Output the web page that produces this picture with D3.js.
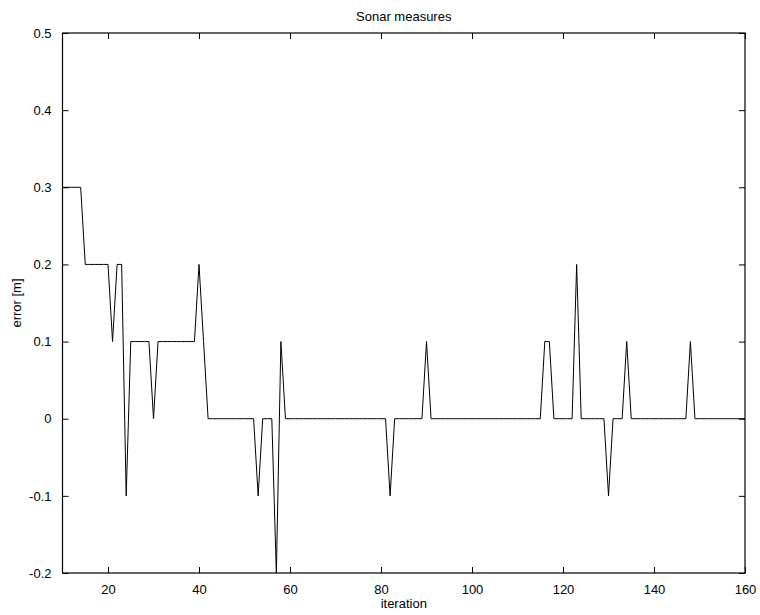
<!DOCTYPE html>
<html>
<head>
<meta charset="utf-8">
<script src="https://cdn.jsdelivr.net/npm/d3@7/dist/d3.min.js"></script>
<style>
  html, body { margin: 0; padding: 0; background: #fff; }
  svg { display: block; }
  text { font-family: "Liberation Sans", Arial, Helvetica, sans-serif; fill: #000; }
</style>
</head>
<body>
<svg id="chart" width="760" height="615"></svg>
<script>
// ---- data ----
const iterationStart = 10;
const errorValues = [
  0.3, 0.3, 0.3, 0.3, 0.3,                 // 10-14
  0.2, 0.2, 0.2, 0.2, 0.2, 0.2,            // 15-20
  0.1,                                     // 21
  0.2, 0.2,                                // 22-23
  -0.1,                                    // 24
  0.1, 0.1, 0.1, 0.1, 0.1,                 // 25-29
  0,                                       // 30
  0.1, 0.1, 0.1, 0.1, 0.1, 0.1, 0.1, 0.1, 0.1, // 31-39
  0.2,                                     // 40
  0.1,                                     // 41
  0, 0, 0, 0, 0, 0, 0, 0, 0, 0, 0,         // 42-52
  -0.1,                                    // 53
  0, 0, 0,                                 // 54-56
  -0.2,                                    // 57
  0.1,                                     // 58
  0, 0, 0, 0, 0, 0, 0, 0, 0, 0, 0, 0, 0, 0, 0, 0, 0, 0, 0, 0, 0, 0, 0, // 59-81
  -0.1,                                    // 82
  0, 0, 0, 0, 0, 0, 0,                     // 83-89
  0.1,                                     // 90
  0, 0, 0, 0, 0, 0, 0, 0, 0, 0, 0, 0, 0, 0, 0, 0, 0, 0, 0, 0, 0, 0, 0, 0, 0, // 91-115
  0.1, 0.1,                                // 116-117
  0, 0, 0, 0, 0,                           // 118-122
  0.2,                                     // 123
  0, 0, 0, 0, 0, 0,                        // 124-129
  -0.1,                                    // 130
  0, 0, 0,                                 // 131-133
  0.1,                                     // 134
  0, 0, 0, 0, 0, 0, 0, 0, 0, 0, 0, 0, 0,   // 135-147
  0.1,                                     // 148
  0, 0, 0, 0, 0, 0, 0, 0, 0, 0, 0, 0       // 149-160
];
const xTicks = [20, 40, 60, 80, 100, 120, 140, 160];
const yTicks = [-0.2, -0.1, 0, 0.1, 0.2, 0.3, 0.4, 0.5];
const xDomain = [10, 160];
const yDomain = [-0.2, 0.5];
const titleText = "Sonar measures";
const xLabelText = "iteration";
const yLabelText = "error [m]";

// ---- layout ----
const margin = { left: 62.5, right: 15, top: 33, bottom: 42 };
const W = 760, H = 615;
const svg = d3.select("#chart");
const x = d3.scaleLinear().domain(xDomain).range([margin.left, W - margin.right]);
const y = d3.scaleLinear().domain(yDomain).range([H - margin.bottom, margin.top]);

const fmtY = v => (Math.abs(v) < 1e-9 ? "0" : d3.format(".1f")(v).replace("\u2212", "-"));
const tickLen = 6;
const fontSize = 13;

// data line
const points = errorValues.map((v, i) => ({ it: iterationStart + i, v }));
const line = d3.line().x(d => x(d.it)).y(d => y(d.v));
svg.append("path")
  .datum(points)
  .attr("fill", "none")
  .attr("stroke", "#000")
  .attr("stroke-width", 1)
  .attr("stroke-linejoin", "miter")
  .attr("d", line);

// axes (ticks inward, mirrored)
const bottomAxis = d3.axisBottom(x).tickValues(xTicks).tickSizeInner(-tickLen).tickSizeOuter(0).tickPadding(12).tickFormat(d3.format("d"));
const topAxis = d3.axisTop(x).tickValues(xTicks).tickSizeInner(-tickLen).tickSizeOuter(0).tickFormat("");
const leftAxis = d3.axisLeft(y).tickValues(yTicks).tickSizeInner(-tickLen).tickSizeOuter(0).tickPadding(11).tickFormat(fmtY);
const rightAxis = d3.axisRight(y).tickValues(yTicks).tickSizeInner(-tickLen).tickSizeOuter(0).tickFormat("");

function style(g) {
  g.select(".domain").remove();
  g.selectAll(".tick line").attr("stroke", "#000").attr("stroke-width", 1);
  g.selectAll(".tick text").attr("font-size", fontSize).attr("fill", "#000")
    .style("font-family", "'Liberation Sans', Arial, sans-serif");
}
svg.append("g").attr("transform", `translate(0,${y(yDomain[0])})`).call(bottomAxis).call(style);
svg.append("g").attr("transform", `translate(0,${y(yDomain[1])})`).call(topAxis).call(style);
svg.append("g").attr("transform", `translate(${x(xDomain[0])},0)`).call(leftAxis).call(style);
svg.append("g").attr("transform", `translate(${x(xDomain[1])},0)`).call(rightAxis).call(style);

// box
svg.append("rect")
  .attr("x", x(xDomain[0])).attr("y", y(yDomain[1]))
  .attr("width", x(xDomain[1]) - x(xDomain[0]))
  .attr("height", y(yDomain[0]) - y(yDomain[1]))
  .attr("fill", "none").attr("stroke", "#000").attr("stroke-width", 1.2);

// title & labels
const cx = (x(xDomain[0]) + x(xDomain[1])) / 2;
svg.append("text").attr("x", cx).attr("y", 21).attr("text-anchor", "middle")
  .attr("font-size", fontSize).text(titleText);
svg.append("text").attr("x", cx).attr("y", 608).attr("text-anchor", "middle")
  .attr("font-size", fontSize).text(xLabelText);
const cy = (y(yDomain[0]) + y(yDomain[1])) / 2;
svg.append("text").attr("transform", `translate(21,${cy}) rotate(-90)`).attr("text-anchor", "middle")
  .attr("font-size", fontSize).text(yLabelText);
</script>
</body>
</html>
